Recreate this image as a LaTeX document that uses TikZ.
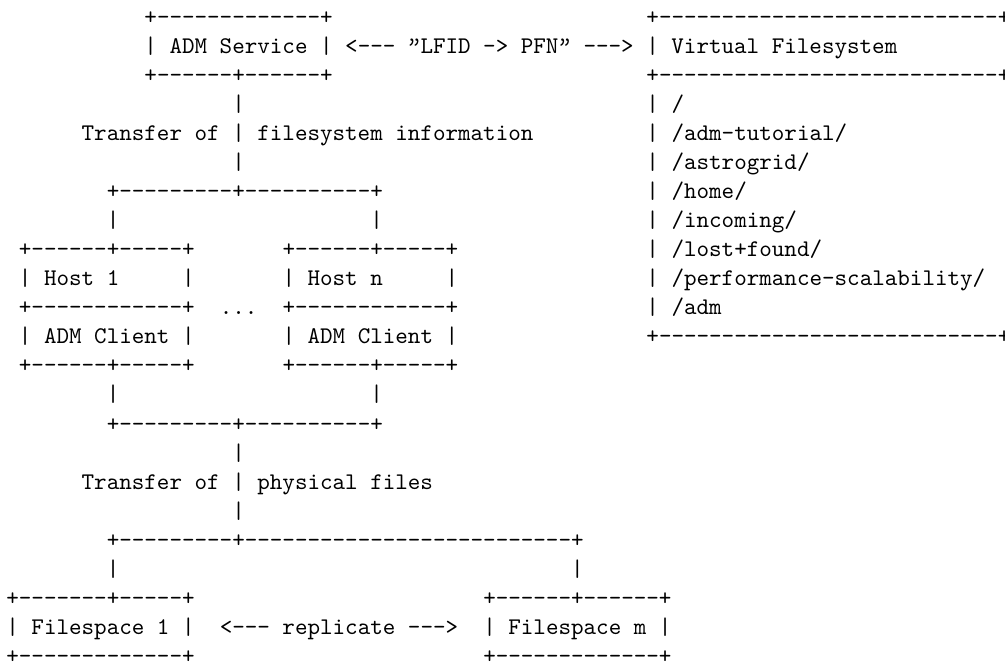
\documentclass[tikz,border=0pt]{standalone}
\usepackage{fontspec}
\setmonofont{lmmono10-regular.otf}
\tikzset{
  txt/.style={anchor=base west, inner sep=0pt, outer sep=0pt, font=\ttfamily\fontsize{11.95}{14}\selectfont, text=black}
}
% row, column, text
\newcommand\asciiat[3]{\node[txt] (r#1c#2) at ({6.4+#2*12.55},{24.3+(#1-1)*29.05}) {#3};}
\newcommand\tq{\makebox[0.525em][c]{’\kern-0.32em’}}
\begin{document}
\begin{tikzpicture}[x=0.5pt,y=-0.5pt]
\fill[white] (0,0) rectangle (1005,665);
\useasboundingbox (0,0) rectangle (1005,665);
\asciiat{1}{11}{+-------------+}
\asciiat{1}{51}{+---------------------------+}
\asciiat{2}{11}{| ADM Service | <--- \tq{}LFID -> PFN\tq{} ---> | Virtual Filesystem}
\asciiat{3}{11}{+------+------+}
\asciiat{3}{51}{+---------------------------+}
\asciiat{4}{18}{|}
\asciiat{4}{51}{| /}
\asciiat{5}{6}{Transfer of | filesystem information}
\asciiat{5}{51}{| /adm-tutorial/}
\asciiat{6}{18}{|}
\asciiat{6}{51}{| /astrogrid/}
\asciiat{7}{8}{+---------+----------+}
\asciiat{7}{51}{| /home/}
\asciiat{8}{8}{|}
\asciiat{8}{29}{|}
\asciiat{8}{51}{| /incoming/}
\asciiat{9}{1}{+------+-----+}
\asciiat{9}{22}{+------+-----+}
\asciiat{9}{51}{| /lost+found/}
\asciiat{10}{1}{| Host 1}
\asciiat{10}{14}{|}
\asciiat{10}{22}{| Host n}
\asciiat{10}{35}{|}
\asciiat{10}{51}{| /performance-scalability/}
\asciiat{11}{1}{+------------+}
\asciiat{11}{17}{...}
\asciiat{11}{22}{+------------+}
\asciiat{11}{51}{| /adm}
\asciiat{12}{1}{| ADM Client |}
\asciiat{12}{22}{| ADM Client |}
\asciiat{12}{51}{+---------------------------+}
\asciiat{13}{1}{+------+-----+}
\asciiat{13}{22}{+------+-----+}
\asciiat{14}{8}{|}
\asciiat{14}{29}{|}
\asciiat{15}{8}{+---------+----------+}
\asciiat{16}{18}{|}
\asciiat{17}{6}{Transfer of | physical files}
\asciiat{18}{18}{|}
\asciiat{19}{8}{+---------+--------------------------+}
\asciiat{20}{8}{|}
\asciiat{20}{45}{|}
\asciiat{21}{0}{+-------+-----+}
\asciiat{21}{38}{+------+------+}
\asciiat{22}{0}{| Filespace 1 |}
\asciiat{22}{17}{<--- replicate --->}
\asciiat{22}{38}{| Filespace m |}
\asciiat{23}{0}{+-------------+}
\asciiat{23}{38}{+-------------+}
\end{tikzpicture}
\end{document}
